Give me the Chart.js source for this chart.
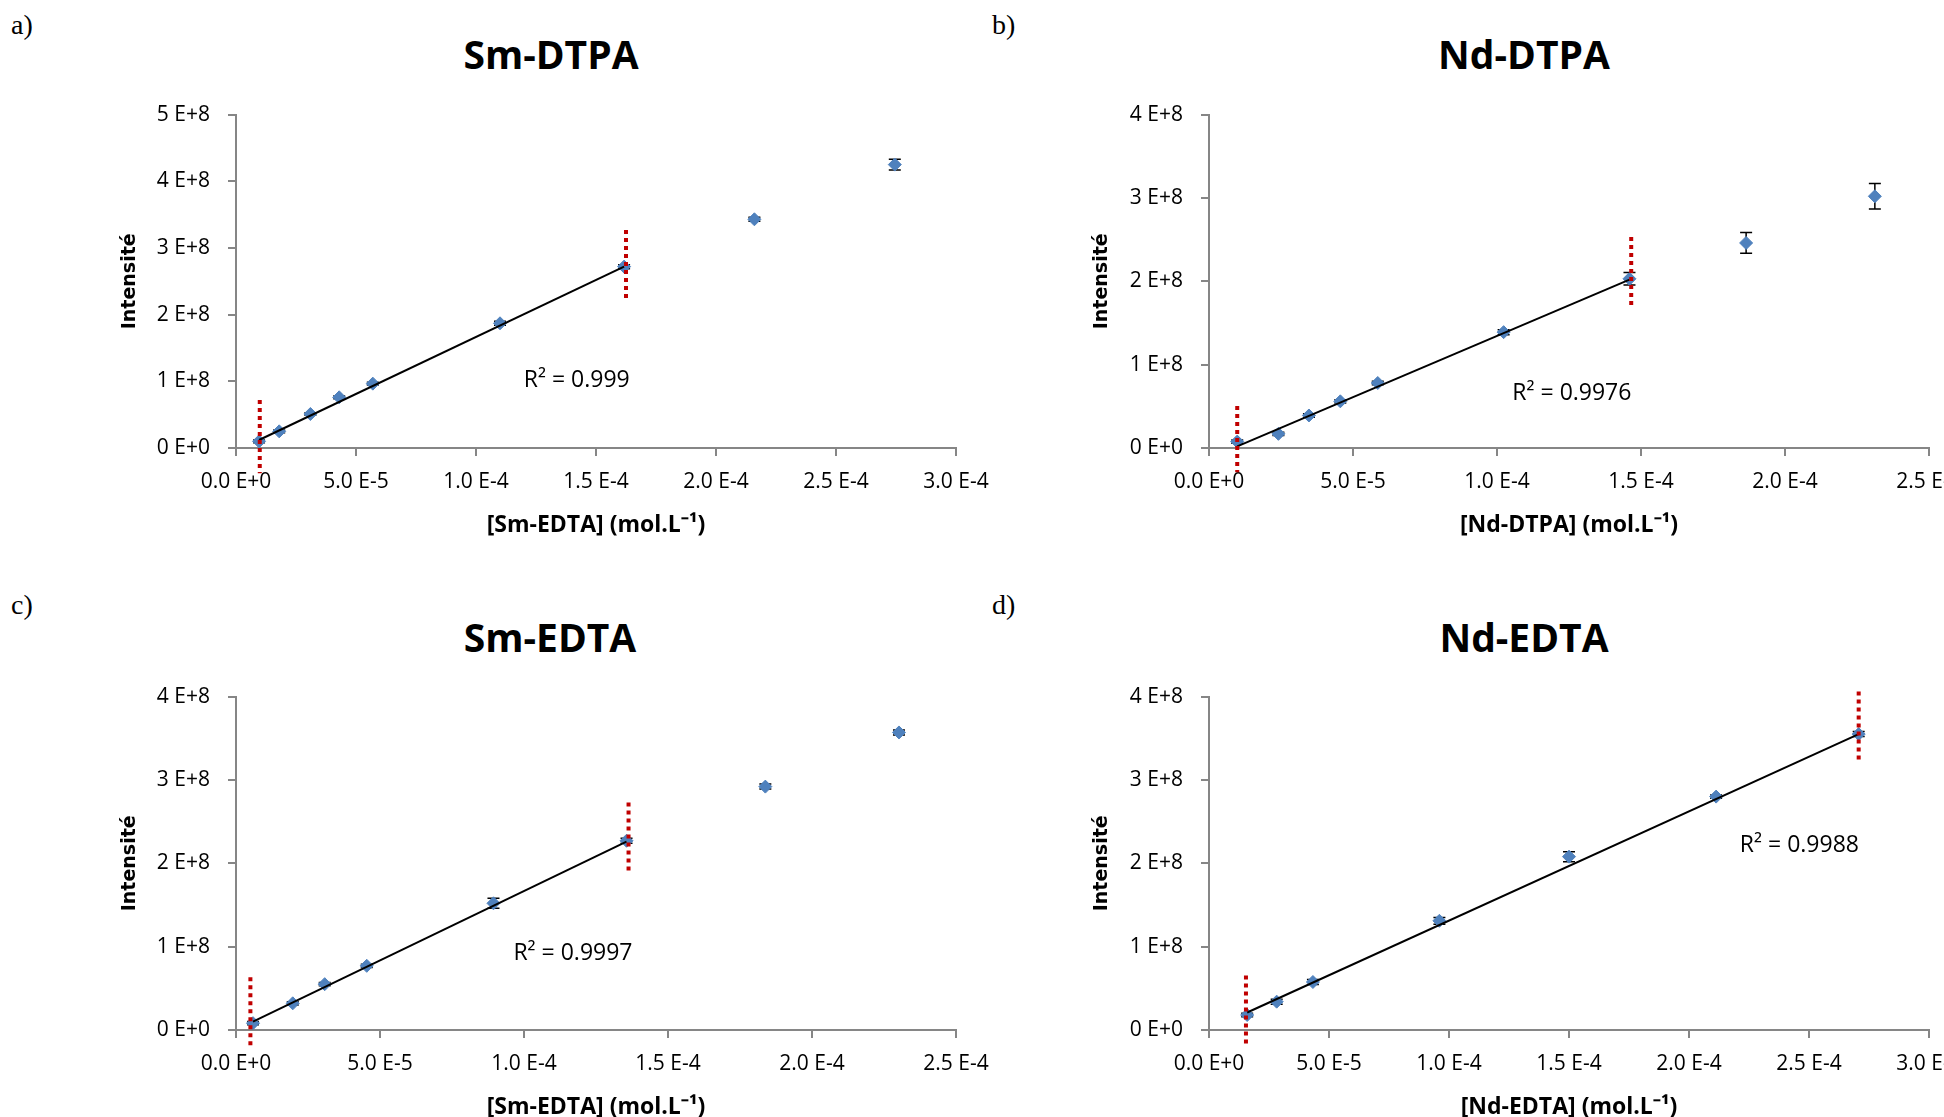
<!DOCTYPE html>
<html>
<head>
<meta charset="utf-8">
<script src="https://cdn.jsdelivr.net/npm/chart.js@4.4.0/dist/chart.umd.min.js"></script>
<style>
  html, body { margin: 0; padding: 0; width: 1944px; height: 1117px; overflow: hidden; background: #fff; }
  canvas { position: absolute; }
  .lbl { position: absolute; font-family: "Liberation Serif", serif; font-size: 28px; line-height: 30px; color: #000; }
  .ttl { position: absolute; width: 400px; text-align: center; font-family: "Open Sans", sans-serif; font-weight: bold; font-size: 39px; line-height: 50px; color: #000; }
</style>
</head>
<body>
<div class="lbl" style="left:11px;top:10px">a)</div>
<div class="lbl" style="left:992px;top:10px">b)</div>
<div class="lbl" style="left:11px;top:590px">c)</div>
<div class="lbl" style="left:992px;top:590px">d)</div>
<div class="ttl" style="left:351px;top:29px">Sm-DTPA</div>
<div class="ttl" style="left:1324px;top:29px">Nd-DTPA</div>
<div class="ttl" style="left:350px;top:612px">Sm-EDTA</div>
<div class="ttl" style="left:1324px;top:612px">Nd-EDTA</div>

<canvas id="chartA" width="914" height="476" style="left:100px;top:84px"></canvas>
<canvas id="chartB" width="907" height="476" style="left:1080px;top:84px"></canvas>
<canvas id="chartC" width="914" height="459" style="left:100px;top:666px"></canvas>
<canvas id="chartD" width="907" height="459" style="left:1080px;top:666px"></canvas>

<script>
// === Data (x in mol/L, y in counts) ===
// a) Sm-DTPA
const smDtpaX = [0.96e-5, 1.8e-5, 3.1e-5, 4.3e-5, 5.7e-5, 11.0e-5, 16.17e-5, 21.6e-5, 27.45e-5];
const smDtpaY = [0.10e8, 0.25e8, 0.51e8, 0.76e8, 0.965e8, 1.87e8, 2.72e8, 3.43e8, 4.25e8];
const smDtpaErr = [0.02e8, 0.02e8, 0.02e8, 0.02e8, 0.02e8, 0.03e8, 0.03e8, 0.03e8, 0.08e8];
const smDtpaTrendX = [0.96e-5, 16.17e-5];
const smDtpaTrendY = [0.12e8, 2.72e8];
const smDtpaLowX = [0.99e-5, 0.99e-5];
const smDtpaLowY = [0.72e8, -0.38e8];
const smDtpaHighX = [16.25e-5, 16.25e-5];
const smDtpaHighY = [3.27e8, 2.23e8];

// b) Nd-DTPA
const ndDtpaX = [0.98e-5, 2.41e-5, 3.47e-5, 4.56e-5, 5.86e-5, 10.23e-5, 14.6e-5, 18.65e-5, 23.12e-5];
const ndDtpaY = [0.077e8, 0.17e8, 0.39e8, 0.56e8, 0.78e8, 1.39e8, 2.03e8, 2.46e8, 3.02e8];
const ndDtpaErr = [0.02e8, 0.02e8, 0.02e8, 0.02e8, 0.02e8, 0.03e8, 0.075e8, 0.124e8, 0.154e8];
const ndDtpaTrendX = [0.98e-5, 14.6e-5];
const ndDtpaTrendY = [0.02e8, 2.02e8];
const ndDtpaLowX = [0.98e-5, 0.98e-5];
const ndDtpaLowY = [0.505e8, -0.29e8];
const ndDtpaHighX = [14.66e-5, 14.66e-5];
const ndDtpaHighY = [2.53e8, 1.70e8];

// c) Sm-EDTA
const smEdtaX = [0.59e-5, 1.97e-5, 3.08e-5, 4.54e-5, 8.94e-5, 13.56e-5, 18.38e-5, 23.02e-5];
const smEdtaY = [0.082e8, 0.32e8, 0.55e8, 0.77e8, 1.52e8, 2.27e8, 2.92e8, 3.57e8];
const smEdtaErr = [0.02e8, 0.02e8, 0.02e8, 0.02e8, 0.06e8, 0.03e8, 0.03e8, 0.03e8];
const smEdtaTrendX = [0.59e-5, 13.56e-5];
const smEdtaTrendY = [0.10e8, 2.26e8];
const smEdtaLowX = [0.5e-5, 0.5e-5];
const smEdtaLowY = [0.634e8, -0.21e8];
const smEdtaHighX = [13.63e-5, 13.63e-5];
const smEdtaHighY = [2.73e8, 1.91e8];

// d) Nd-EDTA
const ndEdtaX = [1.59e-5, 2.82e-5, 4.33e-5, 9.6e-5, 15.0e-5, 21.13e-5, 27.07e-5];
const ndEdtaY = [0.18e8, 0.34e8, 0.576e8, 1.31e8, 2.08e8, 2.80e8, 3.55e8];
const ndEdtaErr = [0.02e8, 0.03e8, 0.03e8, 0.04e8, 0.06e8, 0.02e8, 0.03e8];
const ndEdtaTrendX = [1.59e-5, 27.07e-5];
const ndEdtaTrendY = [0.21e8, 3.55e8];
const ndEdtaLowX = [1.54e-5, 1.54e-5];
const ndEdtaLowY = [0.654e8, -0.21e8];
const ndEdtaHighX = [27.07e-5, 27.07e-5];
const ndEdtaHighY = [4.06e8, 3.21e8];

// R² labels: text and position in data units
const r2Texts = ["R² = 0.999", "R² = 0.9976", "R² = 0.9997", "R² = 0.9988"];
const r2X = [14.2e-5, 12.6e-5, 11.7e-5, 24.6e-5];
const r2Y = [1.02e8, 0.66e8, 0.92e8, 2.21e8];

const xTitles = ["[Sm-EDTA] (mol.L⁻¹)", "[Nd-DTPA] (mol.L⁻¹)", "[Sm-EDTA] (mol.L⁻¹)", "[Nd-EDTA] (mol.L⁻¹)"];
const xMax = [3e-4, 2.5e-4, 2.5e-4, 3e-4];
const yMax = [5e8, 4e8, 4e8, 4e8];

Chart.defaults.font.family = "'Open Sans', sans-serif";
Chart.defaults.color = "#000";

function sci(v, d) {
  if (Math.abs(v) < 1e-20) return (0).toFixed(d) + " E+0";
  let e = Math.floor(Math.log10(Math.abs(v)));
  let m = v / Math.pow(10, e);
  if (Math.abs(+m.toFixed(d)) >= 10) {
    m /= 10;
    e += 1;
  }
  return m.toFixed(d) + " E" + (e < 0 ? "-" : "+") + Math.abs(e);
}

const toPts = (xs, ys) => xs.map((x, i) => ({ x: x, y: ys[i] }));

// error bars drawn just before the markers so the diamonds sit on top
const errorBars = {
  id: "errorBars",
  beforeDatasetDraw(chart, args) {
    const ds = chart.data.datasets[args.index];
    if (!ds.errors) return;
    const ctx = chart.ctx;
    const xs = chart.scales.x;
    const ys = chart.scales.y;
    ctx.save();
    ctx.strokeStyle = "#000";
    ctx.lineWidth = 1.5;
    ds.data.forEach((p, i) => {
      const px = xs.getPixelForValue(p.x);
      const top = ys.getPixelForValue(p.y + ds.errors[i]);
      const bot = ys.getPixelForValue(p.y - ds.errors[i]);
      ctx.beginPath();
      ctx.moveTo(px, top);
      ctx.lineTo(px, bot);
      ctx.moveTo(px - 6, top);
      ctx.lineTo(px + 6, top);
      ctx.moveTo(px - 6, bot);
      ctx.lineTo(px + 6, bot);
      ctx.stroke();
    });
    ctx.restore();
  },
};

function r2Label(text, x, y) {
  return {
    id: "r2",
    afterDraw(chart) {
      const ctx = chart.ctx;
      ctx.save();
      ctx.font = "23px 'Open Sans', sans-serif";
      ctx.fillStyle = "#000";
      ctx.textAlign = "center";
      ctx.textBaseline = "middle";
      ctx.fillText(text, chart.scales.x.getPixelForValue(x), chart.scales.y.getPixelForValue(y));
      ctx.restore();
    },
  };
}

function drawPanel(id, k, d, lay) {
  const red = (xs, ys) => ({
    type: "line",
    data: toPts(xs, ys),
    borderColor: "#c00000",
    borderWidth: 4,
    borderDash: [4, 4],
    pointRadius: 0,
    clip: false,
  });
  return new Chart(document.getElementById(id), {
    type: "scatter",
    data: {
      datasets: [
        red(d.lowX, d.lowY),
        red(d.highX, d.highY),
        {
          type: "line",
          data: toPts(d.trendX, d.trendY),
          borderColor: "#000",
          borderWidth: 2,
          pointRadius: 0,
        },
        {
          data: toPts(d.x, d.y),
          errors: d.err,
          pointStyle: "rectRot",
          pointRadius: 6.5,
          backgroundColor: "#4f81bd",
          borderColor: "#4f81bd",
          borderWidth: 1,
        },
      ],
    },
    options: {
      responsive: false,
      animation: false,
      layout: { padding: { left: lay.pl, right: 58, top: 0, bottom: lay.pb } },
      plugins: { legend: { display: false }, tooltip: { enabled: false } },
      scales: {
        x: {
          type: "linear",
          min: 0,
          max: xMax[k],
          afterFit: (s) => { s.height = 91; },
          ticks: { stepSize: 5e-5, padding: 13, font: { size: 21 }, maxRotation: 0, callback: (v) => sci(v, 1) },
          grid: { drawOnChartArea: false, drawTicks: true, tickLength: 8, color: "#868686", lineWidth: 2 },
          border: { color: "#868686", width: 2 },
          title: { display: true, text: xTitles[k], padding: 0, font: { size: 23, weight: "bold" } },
        },
        y: {
          min: 0,
          max: yMax[k],
          afterFit: (s) => { s.width = lay.yw; },
          ticks: { stepSize: 1e8, padding: 18, font: { size: 21 }, callback: (v) => sci(v, 0) },
          grid: { drawOnChartArea: false, drawTicks: true, tickLength: 8, color: "#868686", lineWidth: 2 },
          border: { color: "#868686", width: 2 },
          title: {
            display: true,
            text: "Intensité",
            padding: 0,
            font: { family: "'DejaVu Sans', sans-serif", size: 19, weight: "bold" },
          },
        },
      },
    },
    plugins: [errorBars, r2Label(r2Texts[k], r2X[k], r2Y[k])],
  });
}

drawPanel("chartA", 0, {
  x: smDtpaX, y: smDtpaY, err: smDtpaErr,
  trendX: smDtpaTrendX, trendY: smDtpaTrendY,
  lowX: smDtpaLowX, lowY: smDtpaLowY, highX: smDtpaHighX, highY: smDtpaHighY,
}, { pl: 19, pb: 21, yw: 117 });

drawPanel("chartB", 1, {
  x: ndDtpaX, y: ndDtpaY, err: ndDtpaErr,
  trendX: ndDtpaTrendX, trendY: ndDtpaTrendY,
  lowX: ndDtpaLowX, lowY: ndDtpaLowY, highX: ndDtpaHighX, highY: ndDtpaHighY,
}, { pl: 11, pb: 21, yw: 118 });

drawPanel("chartC", 2, {
  x: smEdtaX, y: smEdtaY, err: smEdtaErr,
  trendX: smEdtaTrendX, trendY: smEdtaTrendY,
  lowX: smEdtaLowX, lowY: smEdtaLowY, highX: smEdtaHighX, highY: smEdtaHighY,
}, { pl: 19, pb: 4, yw: 117 });

drawPanel("chartD", 3, {
  x: ndEdtaX, y: ndEdtaY, err: ndEdtaErr,
  trendX: ndEdtaTrendX, trendY: ndEdtaTrendY,
  lowX: ndEdtaLowX, lowY: ndEdtaLowY, highX: ndEdtaHighX, highY: ndEdtaHighY,
}, { pl: 11, pb: 4, yw: 118 });
</script>
</body>
</html>
